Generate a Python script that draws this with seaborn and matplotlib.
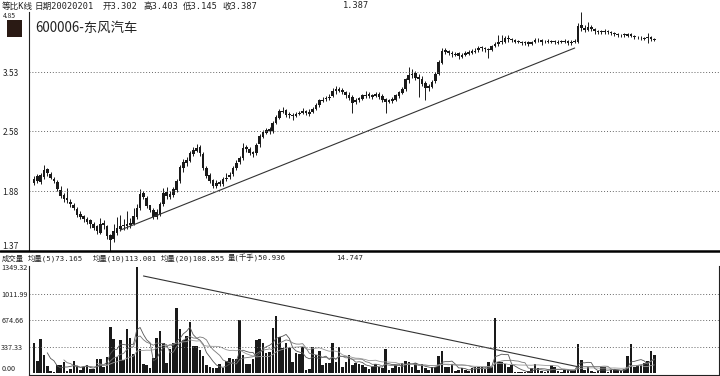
import numpy as np
import pandas as pd
import seaborn as sns
import matplotlib.pyplot as plt
from matplotlib.lines import Line2D

sns.set_style("white")
plt.rcParams['font.family'] = ['Noto Sans CJK SC', 'DejaVu Sans']

# ---- datos (K diaria 600006 东风汽车) ----
opens = [1.96, 2.04, 1.97, 2.03, 2.11, 2.06, 2.01, 1.97, 1.89, 1.84, 1.81, 1.78, 1.75, 1.71, 1.67, 1.65, 1.62, 1.61, 1.58, 1.56, 1.51, 1.59, 1.56,
         1.49, 1.46, 1.51, 1.54, 1.56, 1.56, 1.57, 1.58, 1.64, 1.72, 1.86, 1.81, 1.75, 1.70, 1.64, 1.67, 1.76, 1.87, 1.82, 1.84, 1.89, 1.98, 2.12,
         2.18, 2.21, 2.29, 2.33, 2.38, 2.29, 2.13, 2.05, 1.99, 1.93, 1.97, 1.95, 2.00, 2.03, 2.06, 2.12, 2.19, 2.24, 2.37, 2.35, 2.31, 2.30, 2.41,
         2.51, 2.56, 2.61, 2.58, 2.70, 2.77, 2.86, 2.89, 2.83, 2.82, 2.80, 2.83, 2.85, 2.88, 2.83, 2.86, 2.91, 2.96, 3.03, 3.06, 3.08, 3.11, 3.19,
         3.23, 3.21, 3.17, 3.13, 3.09, 3.01, 3.04, 3.07, 3.11, 3.14, 3.10, 3.11, 3.15, 3.11, 3.06, 3.01, 3.03, 3.05, 3.11, 3.16, 3.23, 3.38, 3.47,
         3.51, 3.44, 3.41, 3.33, 3.24, 3.27, 3.36, 3.50, 3.71, 3.96, 3.94, 3.91, 3.87, 3.90, 3.83, 3.87, 3.89, 3.91, 3.93, 3.96, 4.03, 4.01, 3.97,
         3.97, 4.06, 4.09, 4.16, 4.14, 4.23, 4.21, 4.19, 4.16, 4.15, 4.11, 4.14, 4.09, 4.13, 4.19, 4.19, 4.13, 4.14, 4.17, 4.16, 4.12, 4.16, 4.13,
         4.17, 4.11, 4.14, 4.15, 4.52, 4.46, 4.41, 4.49, 4.44, 4.37, 4.39, 4.36, 4.39, 4.35, 4.33, 4.31, 4.29, 4.31, 4.28, 4.32, 4.27, 4.26, 4.23, 4.21, 4.22, 4.25, 4.21]
closes = [2.00, 1.98, 2.05, 2.10, 2.07, 2.02, 1.98, 1.90, 1.83, 1.80, 1.79, 1.76, 1.72, 1.66, 1.64, 1.62, 1.60, 1.58, 1.55, 1.52, 1.58, 1.57, 1.48,
          1.45, 1.52, 1.55, 1.56, 1.57, 1.58, 1.59, 1.65, 1.72, 1.85, 1.82, 1.74, 1.70, 1.64, 1.68, 1.76, 1.86, 1.83, 1.85, 1.90, 1.98, 2.14, 2.19,
          2.22, 2.30, 2.34, 2.36, 2.30, 2.12, 2.04, 1.98, 1.93, 1.96, 1.95, 2.00, 2.02, 2.05, 2.13, 2.18, 2.24, 2.36, 2.35, 2.30, 2.29, 2.40, 2.52,
          2.57, 2.60, 2.58, 2.70, 2.78, 2.87, 2.88, 2.82, 2.81, 2.80, 2.83, 2.85, 2.87, 2.84, 2.86, 2.90, 2.96, 3.04, 3.05, 3.07, 3.10, 3.20, 3.22,
          3.20, 3.18, 3.12, 3.08, 3.00, 3.05, 3.08, 3.12, 3.13, 3.11, 3.12, 3.14, 3.10, 3.05, 3.02, 3.04, 3.06, 3.12, 3.17, 3.22, 3.40, 3.48, 3.50,
          3.42, 3.40, 3.32, 3.25, 3.28, 3.35, 3.50, 3.72, 3.95, 3.93, 3.90, 3.88, 3.89, 3.84, 3.86, 3.90, 3.92, 3.94, 3.95, 4.02, 4.00, 3.98, 3.98,
          4.05, 4.10, 4.14, 4.15, 4.22, 4.20, 4.18, 4.15, 4.14, 4.12, 4.13, 4.10, 4.14, 4.18, 4.18, 4.14, 4.15, 4.16, 4.15, 4.13, 4.15, 4.14, 4.16,
          4.12, 4.15, 4.16, 4.50, 4.45, 4.42, 4.48, 4.43, 4.38, 4.38, 4.37, 4.38, 4.36, 4.34, 4.32, 4.30, 4.30, 4.29, 4.31, 4.28, 4.25, 4.24, 4.22, 4.23, 4.24, 4.20, 4.19]
highs = [2.04, 2.06, 2.07, 2.16, 2.13, 2.08, 2.03, 1.99, 1.93, 1.86, 1.91, 1.80, 1.77, 1.73, 1.69, 1.66, 1.64, 1.62, 1.60, 1.57, 1.63, 1.61, 1.57,
         1.50, 1.58, 1.64, 1.66, 1.62, 1.69, 1.63, 1.72, 1.76, 1.90, 1.88, 1.83, 1.75, 1.72, 1.71, 1.78, 1.91, 1.92, 1.88, 1.92, 2.01, 2.16, 2.23,
         2.25, 2.33, 2.37, 2.41, 2.40, 2.31, 2.15, 2.07, 2.00, 1.99, 1.99, 2.03, 2.07, 2.08, 2.15, 2.22, 2.27, 2.42, 2.40, 2.37, 2.33, 2.43, 2.55,
         2.60, 2.63, 2.64, 2.73, 2.81, 2.90, 2.93, 2.90, 2.86, 2.84, 2.86, 2.88, 2.92, 2.89, 2.90, 2.93, 2.99, 3.07, 3.09, 3.11, 3.14, 3.24, 3.28,
         3.26, 3.24, 3.20, 3.17, 3.12, 3.08, 3.10, 3.15, 3.19, 3.17, 3.15, 3.18, 3.18, 3.14, 3.08, 3.07, 3.10, 3.15, 3.20, 3.26, 3.43, 3.62, 3.58,
         3.55, 3.50, 3.45, 3.36, 3.31, 3.38, 3.53, 3.76, 4.02, 4.00, 3.97, 3.94, 3.93, 3.92, 3.90, 3.94, 3.96, 3.99, 4.00, 4.06, 4.06, 4.04, 4.02,
         4.08, 4.13, 4.30, 4.30, 4.27, 4.29, 4.22, 4.21, 4.19, 4.17, 4.16, 4.17, 4.17, 4.22, 4.22, 4.21, 4.18, 4.20, 4.19, 4.18, 4.18, 4.19, 4.20,
         4.19, 4.18, 4.20, 4.58, 4.85, 4.52, 4.60, 4.52, 4.46, 4.42, 4.41, 4.43, 4.41, 4.39, 4.37, 4.34, 4.33, 4.34, 4.35, 4.34, 4.30, 4.28, 4.27, 4.26, 4.35, 4.28, 4.23]
lows = [1.94, 1.96, 1.95, 2.01, 2.04, 2.00, 1.96, 1.88, 1.81, 1.78, 1.77, 1.73, 1.70, 1.64, 1.62, 1.60, 1.58, 1.55, 1.53, 1.50, 1.50, 1.54, 1.46,
        1.37, 1.44, 1.49, 1.52, 1.53, 1.54, 1.55, 1.57, 1.62, 1.70, 1.80, 1.72, 1.68, 1.62, 1.62, 1.65, 1.74, 1.80, 1.80, 1.82, 1.87, 1.96, 2.08,
        2.15, 2.19, 2.26, 2.31, 2.27, 2.10, 2.02, 1.96, 1.91, 1.91, 1.93, 1.93, 1.98, 2.00, 2.04, 2.10, 2.17, 2.22, 2.31, 2.28, 2.25, 2.28, 2.38,
        2.49, 2.54, 2.55, 2.56, 2.68, 2.75, 2.84, 2.79, 2.77, 2.74, 2.78, 2.81, 2.83, 2.81, 2.80, 2.84, 2.89, 2.94, 3.01, 3.03, 3.05, 3.09, 3.15,
        3.17, 3.14, 3.08, 3.04, 2.85, 2.98, 3.02, 3.04, 3.08, 3.08, 3.07, 3.09, 3.07, 3.02, 2.84, 2.99, 3.00, 3.03, 3.08, 3.14, 3.20, 3.34, 3.42,
        3.38, 3.10, 3.28, 3.05, 3.20, 3.24, 3.33, 3.48, 3.69, 3.88, 3.86, 3.82, 3.84, 3.78, 3.81, 3.84, 3.86, 3.89, 3.90, 3.93, 3.95, 3.93, 3.80,
        3.94, 4.03, 4.06, 4.10, 4.12, 4.15, 4.15, 4.12, 4.11, 4.08, 4.08, 4.06, 4.07, 4.11, 4.14, 4.08, 4.11, 4.12, 4.12, 4.09, 4.10, 4.11, 4.11,
        4.08, 4.08, 4.11, 4.12, 4.38, 4.36, 4.38, 4.39, 4.33, 4.32, 4.33, 4.33, 4.32, 4.30, 4.28, 4.26, 4.25, 4.25, 4.26, 4.24, 4.21, 4.20, 4.18, 4.19, 4.12, 4.16, 4.16]
volumes = [386, 157, 429, 229, 89, 25, 10, 102, 102, 144, 25, 51, 153, 89, 38, 80, 96, 47, 47, 174,
           174, 80, 200, 590, 429, 208, 420, 165, 560, 449, 238, 1349.32, 301, 115, 102, 59, 195, 449, 535, 386,
           123, 305, 386, 823, 560, 420, 471, 645, 344, 344, 293, 216, 102, 72, 59, 59, 110, 59, 153, 195,
           174, 182, 675,
           229, 115, 115, 178, 420, 429, 386, 259, 268, 577, 726, 454, 322, 378, 314, 144, 250, 246, 327, 38,
           47, 335, 229, 284, 102, 123, 123, 378, 144, 327, 80, 144, 229, 102, 132, 115, 96, 72, 47, 80,
           115, 80, 59, 301, 38, 59, 96, 72, 132, 153, 144, 80, 132, 38, 115, 59, 38, 72, 80, 216,
           284, 72, 72, 115, 30, 38, 59, 38, 30,
           59, 80, 72, 80, 47, 144, 80, 696, 140, 140, 115, 80, 102, 10, 10, 10, 10, 20, 59, 115,
           59, 20, 10, 20, 96, 72, 20, 10, 38, 47, 38, 38, 369, 165, 38, 72, 20, 10, 20, 72,
           72, 10, 38, 47, 38, 38, 47, 221, 365, 72, 102, 96, 132, 157, 284, 229]

# lineas de tendencia dibujadas a mano (indice de vela, valor)
trend_price_idx = [26, 163]
trend_price_val = [1.53, 4.01]
trend_vol_idx = [33, 164]
trend_vol_val = [1235, 80]

price_ticks = [1.37, 1.88, 2.58, 3.53, 4.85]
vol_ticks = [0.0, 337.33, 674.66, 1011.99, 1349.32]

df = pd.DataFrame({'open': opens, 'close': closes, 'high': highs, 'low': lows, 'vol': volumes})
df['i'] = np.arange(len(df))
df['ma5'] = df['vol'].rolling(5).mean()
df['ma10'] = df['vol'].rolling(10).mean()
df['ma20'] = df['vol'].rolling(20).mean()

W, H = 720, 376
step = 3.317  # px por vela
fig = plt.figure(figsize=(W / 100, H / 100), dpi=100)
ax = fig.add_axes([29 / W, 1 - 251 / H, 691 / W, 251 / H])
axv = fig.add_axes([29 / W, 1 - 375 / H, 690 / W, 109 / H])

# ---- panel de precios (escala logaritmica, "等比") ----
ax.set_yscale('log')
ax.vlines(df['i'], df['low'], df['high'], color='#1a1a1a', lw=0.7)
body_lo = df[['open', 'close']].min(axis=1)
body_h = (df['close'] - df['open']).abs().clip(lower=0.014)
ax.bar(df['i'], body_h, bottom=body_lo, width=0.8, color='#1a1a1a', lw=0)
sns.lineplot(x=trend_price_idx, y=trend_price_val, ax=ax, color='#333333', lw=0.8)

ax.set_xlim((29 - 34) / step, (720 - 34) / step)
ax.set_ylim(1.375, 5.17)
for v in price_ticks[1:4]:
    ax.axhline(v, color='#666666', lw=0.7, ls=(0, (1, 2)))
ax.set_yticks(price_ticks)
ax.set_yticklabels(['%.2f' % v for v in price_ticks])
ax.yaxis.set_minor_locator(plt.NullLocator())
ax.tick_params(axis='y', length=0, pad=19, labelsize=6, labelcolor='#222222')
for lab in ax.get_yticklabels():
    lab.set_horizontalalignment('left')
labs = ax.get_yticklabels()
labs[0].set_verticalalignment('bottom')
labs[-1].set_verticalalignment('top')
labs[-1].set_fontsize(4.8)
ax.set_xticks([])
for s in ['top', 'right', 'bottom']:
    ax.spines[s].set_visible(False)
ax.spines['left'].set_color('#222222')
ax.spines['left'].set_linewidth(0.8)
ax.spines['left'].set_bounds(1.375, 4.85)

# ---- panel de volumen ----
axv.bar(df['i'], df['vol'], width=0.78, color='#1a1a1a', lw=0)
sns.lineplot(data=df, x='i', y='ma5', ax=axv, color='#555555', lw=0.6)
sns.lineplot(data=df, x='i', y='ma10', ax=axv, color='#777777', lw=0.6)
sns.lineplot(data=df, x='i', y='ma20', ax=axv, color='#999999', lw=0.6)
sns.lineplot(x=trend_vol_idx, y=trend_vol_val, ax=axv, color='#333333', lw=0.8)
axv.set_xlim((29 - 34) / step, (719 - 34) / step)
axv.set_ylim(-25, 1362)
for v in vol_ticks[1:4]:
    axv.axhline(v, color='#666666', lw=0.7, ls=(0, (1, 2)))
axv.set_yticks(vol_ticks)
axv.set_yticklabels(['%.2f' % v for v in vol_ticks])
axv.tick_params(axis='y', length=0, pad=20, labelsize=5.2, labelcolor='#222222')
for lab in axv.get_yticklabels():
    lab.set_horizontalalignment('left')
axv.get_yticklabels()[0].set_verticalalignment('bottom')
axv.set_xticks([])
axv.set_xlabel('')
axv.set_ylabel('')
axv.spines['top'].set_visible(False)
for s in ['left', 'right', 'bottom']:
    axv.spines[s].set_color('#222222')
    axv.spines[s].set_linewidth(0.8)
ax.set_xlabel('')
ax.set_ylabel('')

# linea separadora gruesa
fig.add_artist(Line2D([0, 1], [1 - 251 / H] * 2, color='black', lw=1.8))

# ---- textos de cabecera (digitos anchos tipo bitmap) ----
head_font = ['DejaVu Sans Mono', 'Noto Sans CJK SC']

def txt(px, py, s, size=6.2, family=head_font):
    fig.text(px / W, 1 - py / H, s, fontsize=size, ha='left', va='center',
             color='#222222', family=family)

txt(2, 6, '等比K线')
txt(35, 6, '日期20020201')
txt(103, 6, '开3.302')
txt(143, 6, '高3.403')
txt(183, 6, '低3.145')
txt(222, 6, '收3.387')
txt(343, 6, '1.387')
txt(35, 28, '600006-东风汽车', size=9.6, family=['Noto Sans CJK SC', 'DejaVu Sans'])
fig.patches.append(plt.Rectangle((7 / W, 1 - 37 / H), 15 / W, 17 / H, transform=fig.transFigure,
                                 facecolor='#2a1a14', edgecolor='none'))

txt(2, 258, '成交量', size=5.3)
txt(28, 258, '均量(5)73.165', size=5.3)
txt(93, 258, '均量(10)113.001', size=5.3)
txt(161, 258, '均量(20)108.855', size=5.3)
txt(228, 258, '量(千手)50.936', size=5.3)
txt(336, 258, '14.747', size=5.3)

plt.savefig('out.png', dpi=100)
